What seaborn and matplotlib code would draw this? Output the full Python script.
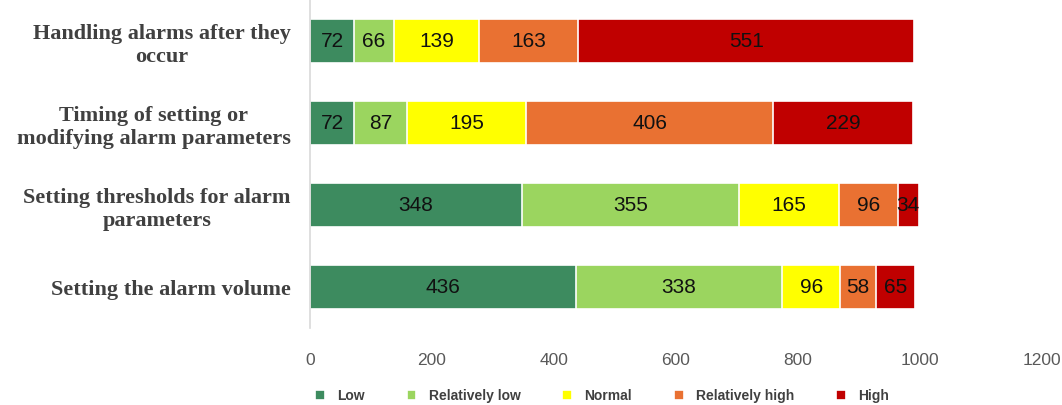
import matplotlib
matplotlib.use("Agg")
import matplotlib.pyplot as plt
import seaborn as sns
import pandas as pd

# Survey items (top to bottom) and response levels
categories = [
    "Handling alarms after they\noccur",
    "Timing of setting or\nmodifying alarm parameters",
    "Setting thresholds for alarm\nparameters",
    "Setting the alarm volume",
]
levels = ["Low", "Relatively low", "Normal", "Relatively high", "High"]

low = [72, 72, 348, 436]
relatively_low = [66, 87, 355, 338]
normal = [139, 195, 165, 96]
relatively_high = [163, 406, 96, 58]
high = [551, 229, 34, 65]

x_ticks = [0, 200, 400, 600, 800, 1000, 1200]

colors = {
    "Low": "#3d8b5f",
    "Relatively low": "#9bd55f",
    "Normal": "#ffff00",
    "Relatively high": "#e97132",
    "High": "#c00000",
}

sns.set_theme(style="white")
plt.rcParams["font.family"] = ["Liberation Sans", "DejaVu Sans"]

# Long-form table with running totals for stacking
series = [low, relatively_low, normal, relatively_high, high]
rows = []
for lvl, vals in zip(levels, series):
    for cat, v in zip(categories, vals):
        rows.append({"category": cat, "level": lvl, "value": v})
df = pd.DataFrame(rows)
df["level"] = pd.Categorical(df["level"], levels, ordered=True)
df = df.sort_values(["category", "level"])
df["cum"] = df.groupby("category", sort=False)["value"].cumsum()
df["mid"] = df["cum"] - df["value"] / 2

fig = plt.figure(figsize=(10.62, 4.05), dpi=100)
ax = fig.add_axes([0.2919, 0.19, 0.689, 0.81])

# Stacked bars: draw cumulative totals from the outermost level inward
for lvl in reversed(levels):
    sub = df[df["level"] == lvl]
    sns.barplot(
        data=sub, x="cum", y="category", order=categories, orient="h",
        color=colors[lvl], width=0.54, edgecolor="white", linewidth=1.2,
        saturation=1, label=lvl, ax=ax,
    )
if ax.get_legend() is not None:
    ax.get_legend().remove()

# Value labels centred in each segment
ypos = {c: i for i, c in enumerate(categories)}
for _, r in df.iterrows():
    ax.text(r["mid"], ypos[r["category"]], f"{r['value']}", ha="center",
            va="center", fontsize=15, color="#111111")

ax.set_xlim(0, 1200)
ax.set_xticks(x_ticks)
ax.set_xticklabels([str(t) for t in x_ticks], fontsize=12.5, color="#595959")
ax.tick_params(axis="x", length=0, pad=18)
ax.tick_params(axis="y", length=0, pad=14)
ax.set_xlabel("")
ax.set_ylabel("")
for lab in ax.get_yticklabels():
    lab.set_fontfamily(["Liberation Serif", "DejaVu Serif"])
    lab.set_fontweight("bold")
    lab.set_fontsize(16)
    lab.set_color("#404040")
    lab.set_multialignment("center")
    lab.set_linespacing(1.2)

for s in ["top", "right", "bottom"]:
    ax.spines[s].set_visible(False)
ax.spines["left"].set_color("#d9d9d9")
ax.spines["left"].set_linewidth(1.2)
ax.grid(False)

# Legend in Low -> High order
handles, labels = ax.get_legend_handles_labels()
lookup = dict(zip(labels, handles))
leg = fig.legend(
    [lookup[l] for l in levels], levels, loc="lower center",
    bbox_to_anchor=(0.567, -0.025), ncol=5, frameon=False,
    fontsize=10, handlelength=0.7, handleheight=0.7, handletextpad=0.9,
    columnspacing=3.0,
)
for t in leg.get_texts():
    t.set_fontweight("bold")
    t.set_color("#404040")

fig.savefig("out.png", dpi=100)
